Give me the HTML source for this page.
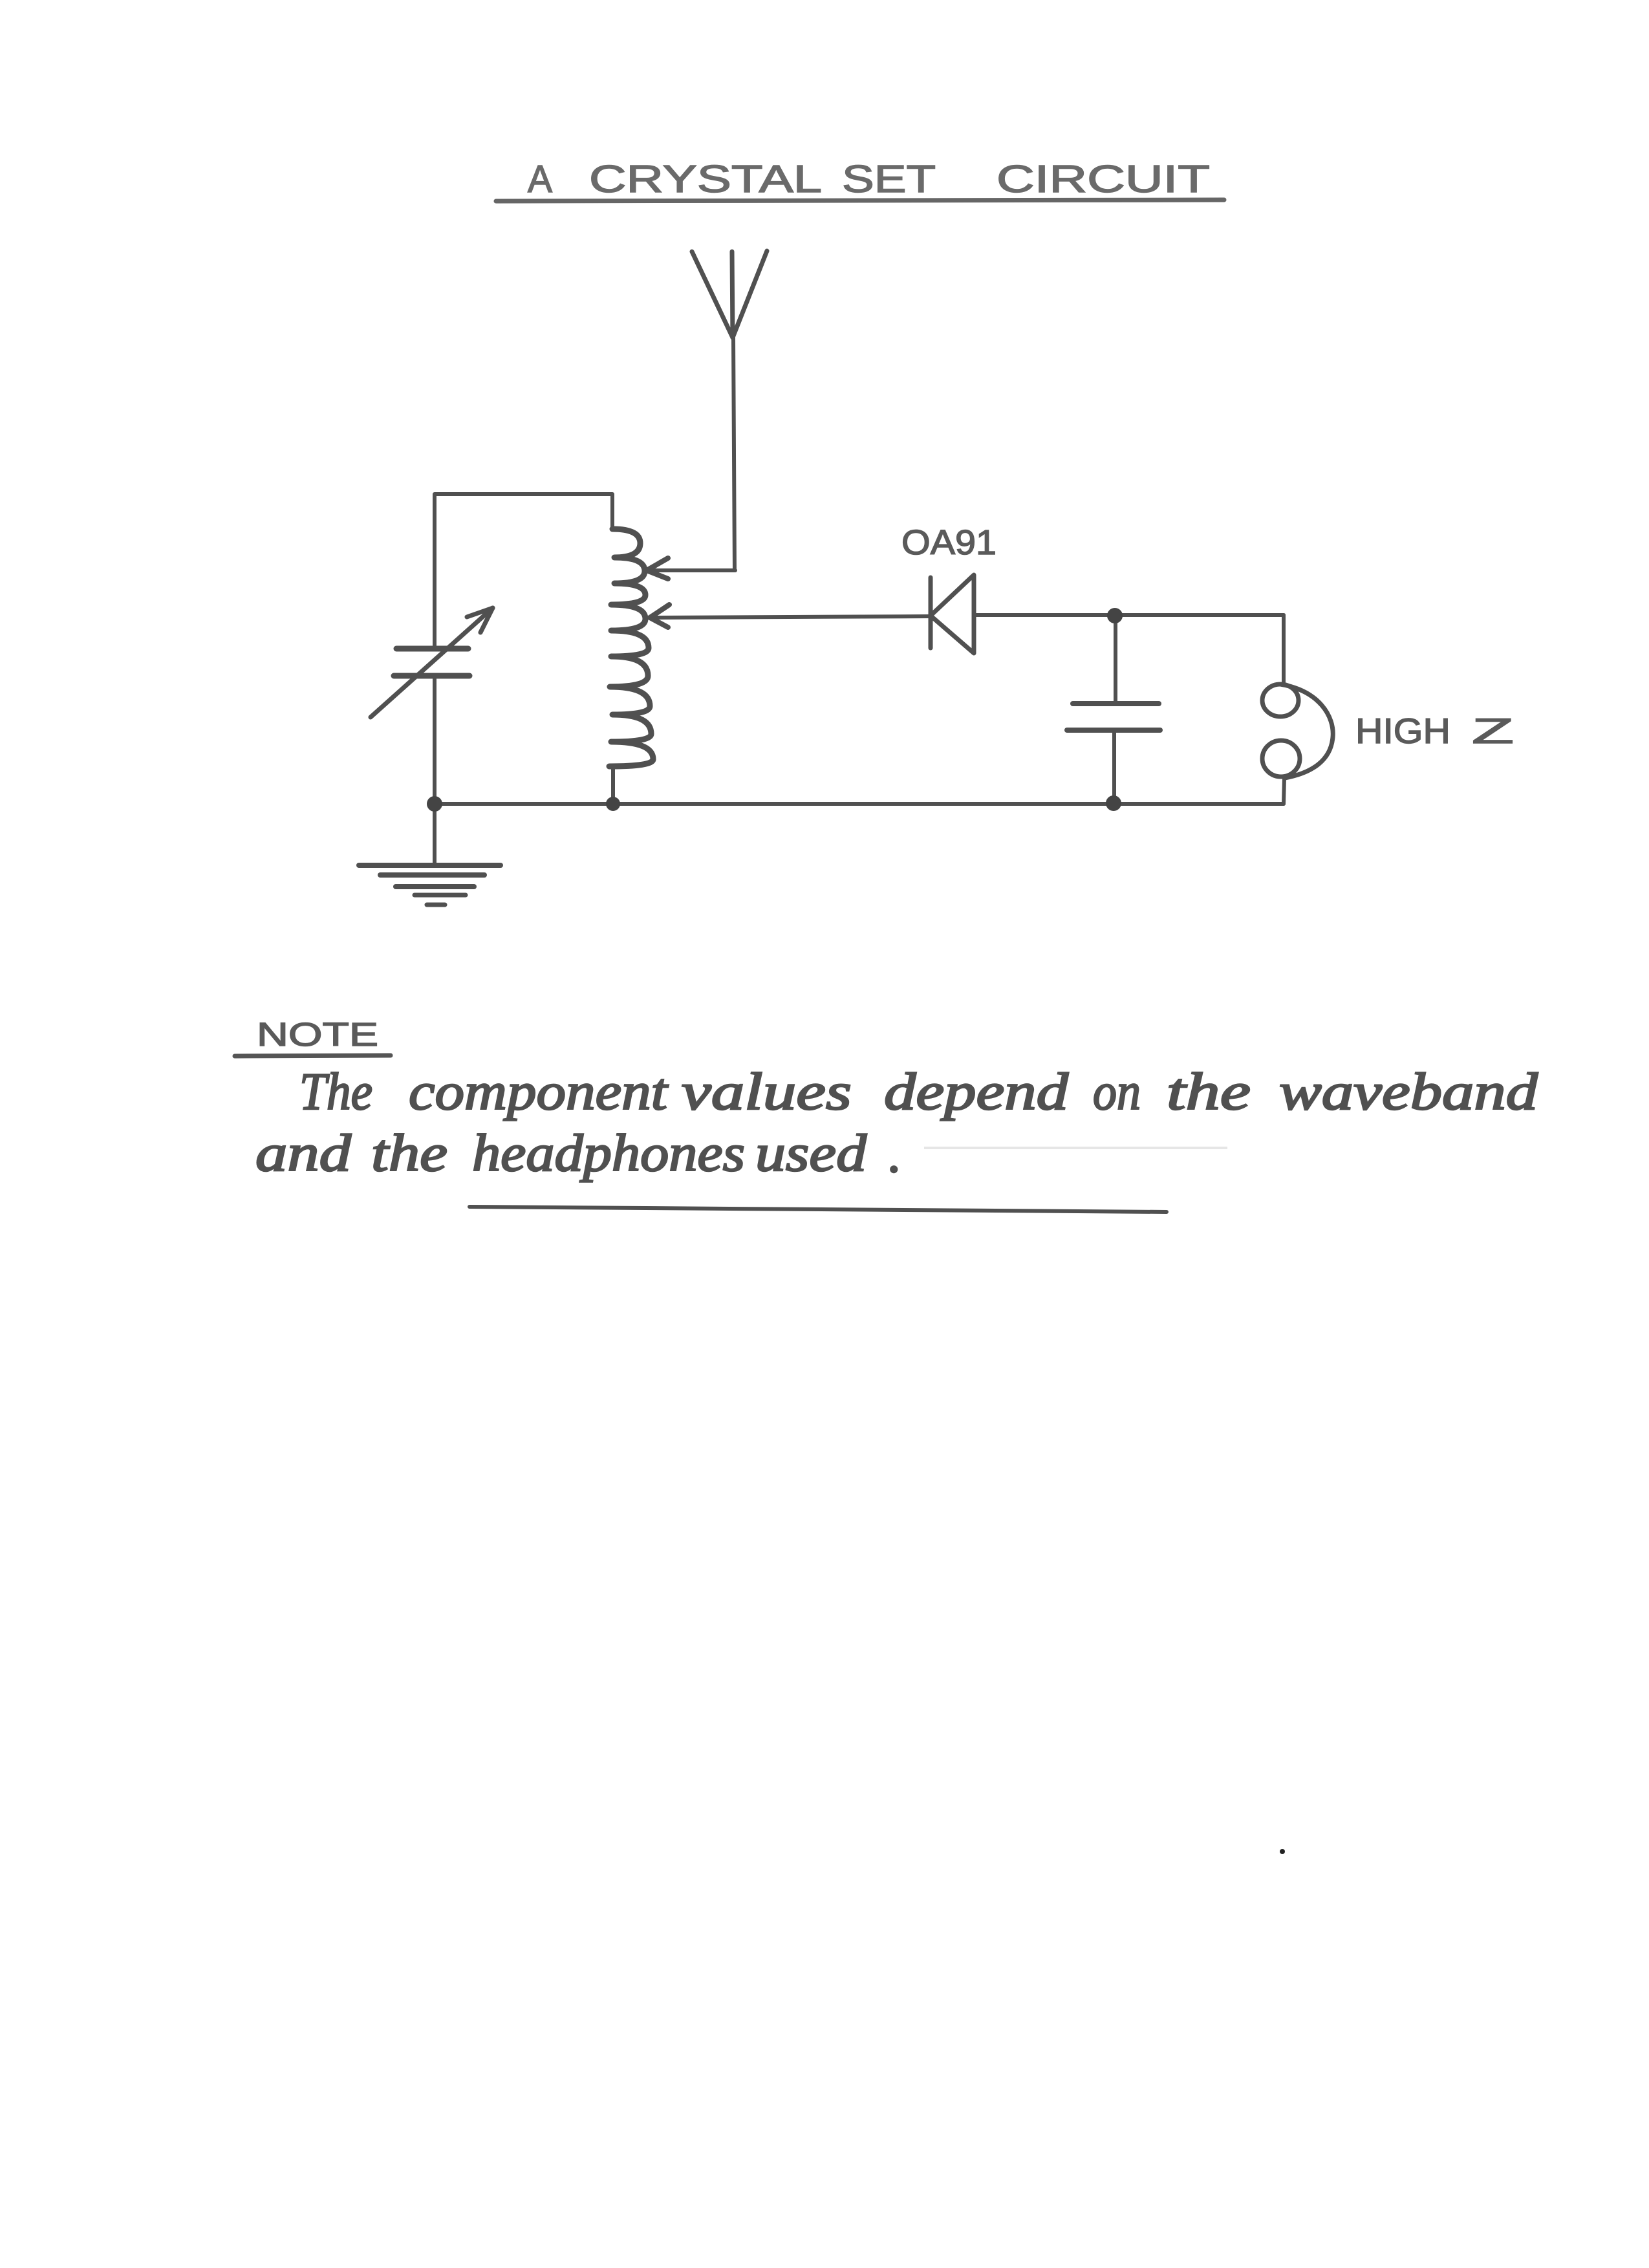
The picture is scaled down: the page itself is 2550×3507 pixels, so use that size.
<!DOCTYPE html>
<html>
<head>
<meta charset="utf-8">
<style>
  html, body { margin: 0; padding: 0; background: #ffffff; }
  body { width: 2550px; height: 3507px; overflow: hidden; }
  svg { display: block; }
</style>
</head>
<body>
<svg xmlns="http://www.w3.org/2000/svg" width="2550" height="3507" viewBox="0 0 2550 3507">
  <rect x="0" y="0" width="2550" height="3507" fill="#ffffff"/>

  <!-- Title -->
  <g font-family="'Liberation Sans', sans-serif" font-size="59" fill="#6a6a6a" stroke="#6a6a6a" stroke-width="1.5">
    <text x="816" y="297" textLength="38" lengthAdjust="spacingAndGlyphs">A</text>
    <text x="911" y="297" textLength="360" lengthAdjust="spacingAndGlyphs">CRYSTAL</text>
    <text x="1302" y="297" textLength="145" lengthAdjust="spacingAndGlyphs">SET</text>
    <text x="1541" y="297" textLength="330" lengthAdjust="spacingAndGlyphs">CIRCUIT</text>
  </g>
  <line x1="767" y1="311" x2="1893" y2="309" stroke="#666" stroke-width="7" stroke-linecap="round"/>

  <g fill="none" stroke="#505050" stroke-linecap="round" stroke-linejoin="round">
    <!-- Antenna -->
    <line x1="1070" y1="389" x2="1133" y2="522" stroke-width="7"/>
    <line x1="1132" y1="389" x2="1133" y2="522" stroke-width="7"/>
    <line x1="1186" y1="388" x2="1133" y2="522" stroke-width="7"/>
    <line x1="1134" y1="520" x2="1136" y2="882" stroke-width="6"/>
    <line x1="1000" y1="882" x2="1137" y2="882" stroke-width="6"/>

    <!-- Left loop -->
    <polyline points="672,1003 672,764 947,764 947,818" stroke-width="6"/>

    <!-- Variable capacitor -->
    <line x1="613" y1="1003" x2="724" y2="1003" stroke-width="9"/>
    <line x1="609" y1="1045" x2="726" y2="1045" stroke-width="9"/>
    <line x1="672" y1="1045" x2="672" y2="1338" stroke-width="6"/>
    <line x1="573" y1="1109" x2="762" y2="940" stroke-width="7"/>
    <line x1="762" y1="940" x2="722" y2="954" stroke-width="7"/>
    <line x1="762" y1="940" x2="743" y2="978" stroke-width="7"/>

    <!-- Coil -->
    <path stroke-width="9" d="
      M947,818
      Q990,818 990,840 Q990,862 950,862
      Q997,862 997,883 Q997,902 950,902
      Q998,902 998,920 Q998,935 945,935
      Q998,935 998,957 Q998,975 945,975
      Q1003,975 1003,1002 Q1003,1015 945,1015
      Q1002,1015 1002,1045 Q1002,1062 943,1062
      Q1005,1062 1005,1092 Q1005,1105 947,1105
      Q1007,1105 1007,1135 Q1007,1147 945,1147
      Q1010,1147 1010,1174 Q1010,1185 942,1185"/>
    <line x1="948" y1="1185" x2="948" y2="1243" stroke-width="6"/>

    <!-- Tap arrows -->
    <line x1="1000" y1="882" x2="1033" y2="863" stroke-width="8"/>
    <line x1="1000" y1="882" x2="1033" y2="895" stroke-width="8"/>
    <line x1="1005" y1="955" x2="1035" y2="935" stroke-width="8"/>
    <line x1="1005" y1="955" x2="1033" y2="970" stroke-width="8"/>
    <line x1="1005" y1="955" x2="1439" y2="953" stroke-width="6"/>

    <!-- Diode -->
    <line x1="1439" y1="893" x2="1439" y2="1002" stroke-width="7"/>
    <polygon points="1439,952 1506,889 1506,1010" stroke-width="7"/>
    <line x1="1506" y1="951" x2="1985" y2="951" stroke-width="6"/>

    <!-- Output capacitor -->
    <line x1="1725" y1="952" x2="1725" y2="1088" stroke-width="6"/>
    <line x1="1659" y1="1088" x2="1792" y2="1088" stroke-width="8"/>
    <line x1="1650" y1="1129" x2="1794" y2="1129" stroke-width="8"/>
    <line x1="1723" y1="1129" x2="1723" y2="1241" stroke-width="6"/>

    <!-- Headphones -->
    <line x1="1985" y1="951" x2="1985" y2="1058" stroke-width="6"/>
    <ellipse cx="1980" cy="1083" rx="28" ry="25" stroke-width="7"/>
    <ellipse cx="1981" cy="1173" rx="29" ry="28" stroke-width="7"/>
    <path d="M1980,1058 C2040,1068 2064,1108 2061,1140 C2058,1175 2030,1195 1987,1203" stroke-width="7"/>
    <line x1="1986" y1="1203" x2="1985" y2="1243" stroke-width="6"/>

    <!-- Bottom rail -->
    <line x1="672" y1="1243" x2="1985" y2="1243" stroke-width="6"/>

    <!-- Ground -->
    <line x1="555" y1="1338" x2="774" y2="1338" stroke-width="8"/>
    <line x1="588" y1="1353" x2="749" y2="1353" stroke-width="8"/>
    <line x1="612" y1="1371" x2="733" y2="1371" stroke-width="8"/>
    <line x1="641" y1="1384" x2="720" y2="1384" stroke-width="7"/>
    <line x1="660" y1="1399" x2="688" y2="1399" stroke-width="7"/>
  </g>

  <!-- Junction dots -->
  <g fill="#444">
    <circle cx="672" cy="1243" r="12"/>
    <circle cx="948" cy="1243" r="11"/>
    <circle cx="1722" cy="1242" r="12"/>
    <circle cx="1724" cy="952" r="12"/>
  </g>

  <!-- Component labels -->
  <g font-family="'Liberation Sans', sans-serif" fill="#5a5a5a" stroke="#5a5a5a" stroke-width="1.5">
    <text x="1394" y="857" font-size="54" textLength="147" lengthAdjust="spacingAndGlyphs">OA91</text>
    <text x="2096" y="1149" font-size="55" textLength="147" lengthAdjust="spacingAndGlyphs">HIGH</text>
    <text x="2276" y="1149" font-size="55" textLength="65" lengthAdjust="spacingAndGlyphs">Z</text>
    <text x="397" y="1617" font-size="51" textLength="188" lengthAdjust="spacingAndGlyphs">NOTE</text>
  </g>
  <line x1="363" y1="1633" x2="604" y2="1632" stroke="#555" stroke-width="7" stroke-linecap="round"/>

  <!-- Handwritten note -->
  <g font-family="'Liberation Serif', serif" font-style="italic" font-size="82" fill="#505050" stroke="#505050" stroke-width="2.5">
    <text x="463" y="1715" textLength="113" lengthAdjust="spacingAndGlyphs">The</text>
    <text x="632" y="1715" textLength="400" lengthAdjust="spacingAndGlyphs">component</text>
    <text x="1054" y="1715" textLength="263" lengthAdjust="spacingAndGlyphs">values</text>
    <text x="1367" y="1715" textLength="285" lengthAdjust="spacingAndGlyphs">depend</text>
    <text x="1690" y="1715" textLength="74" lengthAdjust="spacingAndGlyphs">on</text>
    <text x="1804" y="1715" textLength="130" lengthAdjust="spacingAndGlyphs">the</text>
    <text x="1978" y="1715" textLength="400" lengthAdjust="spacingAndGlyphs">waveband</text>

    <text x="395" y="1810" textLength="148" lengthAdjust="spacingAndGlyphs">and</text>
    <text x="574" y="1810" textLength="118" lengthAdjust="spacingAndGlyphs">the</text>
    <text x="730" y="1810" textLength="422" lengthAdjust="spacingAndGlyphs">headphones</text>
    <text x="1168" y="1810" textLength="172" lengthAdjust="spacingAndGlyphs">used</text>
    <text x="1374" y="1812">.</text>
  </g>
  <line x1="1429" y1="1775" x2="1898" y2="1775" stroke="#e6e6e6" stroke-width="4"/>
  <line x1="726" y1="1866" x2="1804" y2="1874" stroke="#505050" stroke-width="6" stroke-linecap="round"/>

  <!-- speck -->
  <circle cx="1983" cy="2863" r="4" fill="#222"/>
</svg>
</body>
</html>
